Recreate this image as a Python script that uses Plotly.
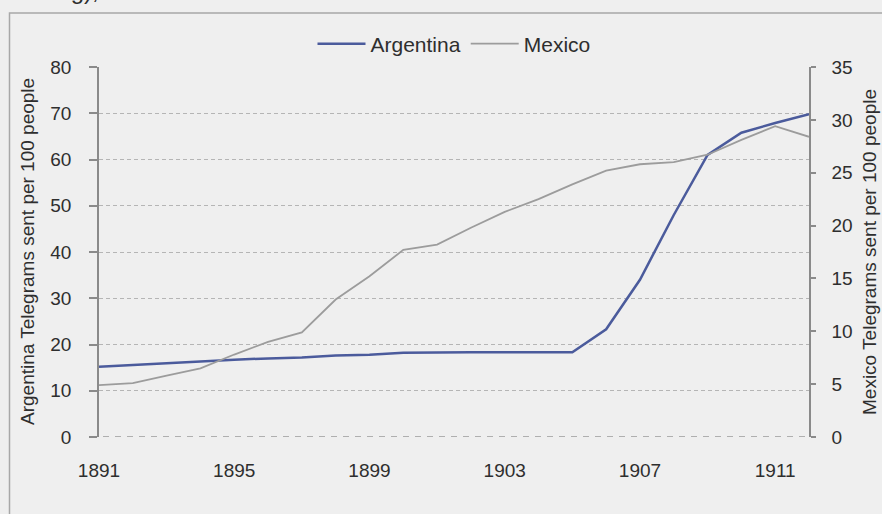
import plotly.graph_objects as go

# Telegrams sent per 100 people, 1891-1912
years = list(range(1891, 1913))
argentina = [15.2, 15.6, 15.9, 16.3, 16.7, 17.0, 17.2, 17.6, 17.8, 18.2, 18.3,
             18.3, 18.3, 18.3, 18.3, 23.3, 34.0, 48.0, 61.0, 65.8, 67.9, 69.8]
mexico = [4.9, 5.1, 5.8, 6.5, 7.8, 9.0, 9.9, 13.0, 15.2, 17.7, 18.2,
          19.8, 21.3, 22.5, 23.9, 25.2, 25.8, 26.0, 26.7, 28.1, 29.4, 28.4]
x_ticks = [1891, 1895, 1899, 1903, 1907, 1911]
left_ticks = [0, 10, 20, 30, 40, 50, 60, 70, 80]
right_ticks = [0, 5, 10, 15, 20, 25, 30, 35]

W, H = 882, 514
L, R, T, B = 99, 73, 67, 77
pw, ph = W - L - R, H - T - B

def px(xp):
    return (xp - L) / pw

def py(yp):
    return (H - B - yp) / ph

BG = "#efefef"
TXT = "#2e2e2e"
AX = "#8a8a8a"
FONT = "Liberation Sans, Arial, sans-serif"

fig = go.Figure()
fig.add_trace(go.Scatter(x=years, y=argentina, name="Argentina", mode="lines",
                         line=dict(color="#4b5b9c", width=2.5), yaxis="y"))
fig.add_trace(go.Scatter(x=years, y=mexico, name="Mexico", mode="lines",
                         line=dict(color="#9c9c9c", width=1.8), yaxis="y2"))

fig.update_layout(
    width=W, height=H,
    margin=dict(l=L, r=R, t=T, b=B),
    paper_bgcolor=BG, plot_bgcolor=BG,
    font=dict(family=FONT, color=TXT, size=19),
    showlegend=True,
    legend=dict(orientation="h", x=0.5, xanchor="center", y=py(44), yanchor="middle",
                font=dict(size=21, color=TXT), itemwidth=48, bgcolor="rgba(0,0,0,0)",
                traceorder="normal"),
    xaxis=dict(range=[1891, 1912], tickvals=x_ticks, ticks="", showgrid=False,
               showline=False, zeroline=False, ticklabelstandoff=20,
               tickfont=dict(size=19, color=TXT)),
    yaxis=dict(range=[0, 80], tickvals=left_ticks, showline=True, linecolor=AX,
               linewidth=1.5, ticks="outside", ticklen=8, tickcolor=AX, tickwidth=1.5,
               showgrid=True, gridcolor="#b5b5b5", griddash="4px,3px", gridwidth=1,
               zeroline=False, ticklabelstandoff=14,
               tickfont=dict(size=19, color=TXT)),
    yaxis2=dict(range=[0, 35], tickvals=right_ticks, overlaying="y", side="right",
                showline=True, linecolor=AX, linewidth=1.5, ticks="outside", ticklen=5,
                tickcolor=AX, tickwidth=1.5, showgrid=False, zeroline=False,
                ticklabelstandoff=12, tickfont=dict(size=19, color=TXT)),
)

# darker dashed baseline at zero
fig.add_shape(type="line", xref="paper", yref="y", x0=px(91), x1=1, y0=0, y1=0,
              line=dict(color="#9a9a9a", width=1.5, dash="6px,6px"), layer="below")

# chart frame
fig.add_shape(type="rect", xref="paper", yref="paper",
              x0=px(9.5), x1=px(W + 20), y0=py(H + 20), y1=py(13),
              line=dict(color="#a8a8a8", width=1.5), fillcolor="rgba(0,0,0,0)",
              layer="below")

# axis titles
fig.add_annotation(text="Argentina Telegrams sent per 100 people", textangle=-90,
                   xref="paper", yref="paper", x=px(27), y=py(252),
                   xanchor="center", yanchor="middle", showarrow=False,
                   font=dict(size=19, color=TXT, family=FONT))
fig.add_annotation(text="Mexico Telegrams sent per 100 people", textangle=-90,
                   xref="paper", yref="paper", x=px(869), y=py(252),
                   xanchor="center", yanchor="middle", showarrow=False,
                   font=dict(size=19, color=TXT, family=FONT))

# running text from the page above the chart
fig.add_annotation(text="ing),", xref="paper", yref="paper", x=px(50), y=py(6),
                   xanchor="left", yanchor="bottom", showarrow=False,
                   font=dict(size=24, color=TXT, family=FONT))

fig.write_html("out.html")
